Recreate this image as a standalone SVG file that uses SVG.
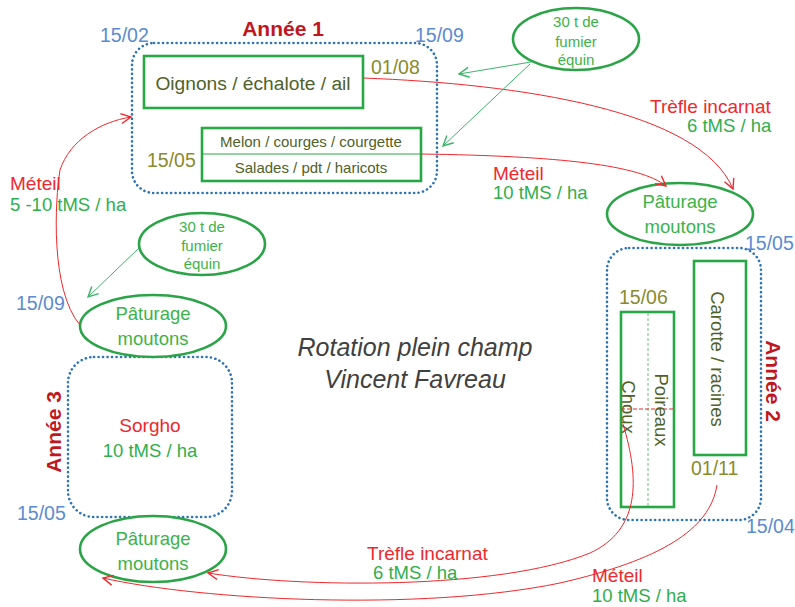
<svg xmlns="http://www.w3.org/2000/svg" width="795" height="607" viewBox="0 0 795 607">
  <style>
    text { font-family: "Liberation Sans", Arial, sans-serif; }
    .year { fill: none; stroke: #2E75B6; stroke-width: 2.6; stroke-dasharray: 0.1 4.4; stroke-linecap: round; }
    .crop { fill: #ffffff; stroke: #27A844; stroke-width: 2.6; }
    .ell { fill: #ffffff; stroke: #2AA446; stroke-width: 2.6; }
    .flow { fill: none; stroke: #F0282D; stroke-width: 1; }
    .feed { fill: none; stroke: #3DB36A; stroke-width: 1; }
    .date { fill: #5B8BD0; font-size: 19.5px; }
    .odate { fill: #8A8A2E; font-size: 19.5px; }
    .ytitle { fill: #C0171F; font-size: 21px; font-weight: bold; }
    .crop-t { fill: #4F6228; }
    .red { fill: #F0282D; font-size: 19px; }
    .grn { fill: #2FAE4E; font-size: 18.5px; }
    .past { fill: #3CB34A; font-size: 18.5px; text-anchor: middle; }
    .fum { fill: #3CB34A; font-size: 15px; text-anchor: middle; }
    .mid { text-anchor: middle; }
  </style>
  <defs>
    <marker id="arrowRed" viewBox="0 0 12 12" refX="11" refY="6" markerWidth="12" markerHeight="12" markerUnits="userSpaceOnUse" orient="auto">
      <path d="M1,1 L11,6 L1,11" fill="none" stroke="#F0282D" stroke-width="1.4"/>
    </marker>
    <marker id="arrowGreen" viewBox="0 0 12 12" refX="11" refY="6" markerWidth="12" markerHeight="12" markerUnits="userSpaceOnUse" orient="auto">
      <path d="M1,1 L11,6 L1,11" fill="none" stroke="#3DB36A" stroke-width="1.4"/>
    </marker>
  </defs>

  <!-- Year 1 -->
  <g id="annee1">
    <rect class="year" x="132" y="43" width="305" height="150" rx="22"/>
    <text class="ytitle mid" x="283" y="36">Année 1</text>
    <text class="date" x="100" y="42">15/02</text>
    <text class="date" x="415" y="42">15/09</text>
  </g>
  <g id="oignons">
    <rect class="crop" x="144" y="56" width="219" height="52"/>
    <text class="crop-t mid" x="253" y="90" font-size="19.2">Oignons / échalote / ail</text>
    <text class="odate" x="371" y="74">01/08</text>
  </g>
  <g id="melon">
    <rect class="crop" x="202" y="128" width="219" height="53"/>
    <line x1="202" y1="154" x2="421" y2="154" stroke="#27A844" stroke-width="1"/>
    <text class="crop-t mid" x="311" y="147" font-size="15">Melon / courges / courgette</text>
    <text class="crop-t mid" x="311" y="173" font-size="15">Salades / pdt / haricots</text>
    <text class="odate" x="147" y="167">15/05</text>
  </g>
  <g id="fumier1">
    <ellipse class="ell" cx="576" cy="39" rx="63" ry="31"/>
    <text class="fum" x="576" y="27">30 t de</text>
    <text class="fum" x="576" y="47">fumier</text>
    <text class="fum" x="576" y="65">équin</text>
  </g>
  <g id="paturage1">
    <ellipse class="ell" cx="680" cy="214" rx="73" ry="31"/>
    <text class="past" x="680" y="208">Pâturage</text>
    <text class="past" x="680" y="233">moutons</text>
  </g>

  <!-- Year 2 -->
  <g id="annee2">
    <rect class="year" x="607" y="248" width="154" height="272" rx="22"/>
    <text class="ytitle mid" transform="translate(766,381) rotate(90)">Année 2</text>
    <text class="date" x="745" y="250">15/05</text>
    <text class="date" x="746" y="533">15/04</text>
  </g>
  <g id="carotte">
    <rect class="crop" x="694" y="261" width="52" height="194"/>
    <text class="crop-t mid" font-size="18.5" transform="translate(711,359) rotate(90)">Carotte / racines</text>
    <text class="odate" x="691" y="475">01/11</text>
  </g>
  <g id="choux-poireaux">
    <rect class="crop" x="621" y="312" width="53" height="195"/>
    <line x1="648" y1="313" x2="648" y2="506" stroke="#6CC07A" stroke-width="1" stroke-dasharray="3 2"/>
    <line x1="621" y1="409" x2="674" y2="409" stroke="#E0282D" stroke-width="1" stroke-dasharray="4 2"/>
    <text class="crop-t mid" font-size="18.5" transform="translate(655,410) rotate(90)">Poireaux</text>
    <text class="crop-t mid" font-size="18.5" transform="translate(622,407) rotate(90)">Choux</text>
    <text class="odate" x="619" y="304">15/06</text>
  </g>

  <!-- Year 3 -->
  <g id="annee3">
    <rect class="year" x="68" y="357" width="164" height="160" rx="26"/>
    <text class="ytitle mid" transform="translate(61,432) rotate(-90)">Année 3</text>
    <text class="red mid" x="150" y="432">Sorgho</text>
    <text class="grn mid" x="150" y="457">10 tMS / ha</text>
    <text class="date" x="17" y="520">15/05</text>
  </g>
  <g id="fumier3">
    <ellipse class="ell" cx="202" cy="244" rx="63" ry="31"/>
    <text class="fum" x="202" y="232">30 t de</text>
    <text class="fum" x="202" y="251">fumier</text>
    <text class="fum" x="202" y="269">équin</text>
  </g>
  <g id="paturage3a">
    <ellipse class="ell" cx="153" cy="326" rx="73" ry="31"/>
    <text class="past" x="153" y="320">Pâturage</text>
    <text class="past" x="153" y="345">moutons</text>
    <text class="date" x="16" y="310">15/09</text>
  </g>
  <g id="paturage3b">
    <ellipse class="ell" cx="153" cy="549" rx="73" ry="33"/>
    <text class="past" x="153" y="545">Pâturage</text>
    <text class="past" x="153" y="570">moutons</text>
  </g>

  <g id="titre">
    <text class="mid" x="415" y="356" font-size="25" font-style="italic" fill="#404040">Rotation plein champ</text>
    <text class="mid" x="415" y="388" font-size="25" font-style="italic" fill="#404040">Vincent Favreau</text>
  </g>

  <!-- Connectors -->
  <g id="connectors">
    <path class="flow" d="M363,78 C520,84 700,110 733,189" marker-end="url(#arrowRed)"/>
    <path class="flow" d="M421,154 C560,156 640,165 666,186" marker-end="url(#arrowRed)"/>
    <path class="flow" d="M80,325 C50,290 55,200 60,170 C70,140 100,122 131,117" marker-end="url(#arrowRed)"/>
    <path class="flow" d="M623,424 C640,480 640,530 590,553 C500,590 300,588 208,573" marker-end="url(#arrowRed)"/>
    <path class="flow" d="M717,485 C710,530 660,560 560,583 C420,612 200,600 103,578" marker-end="url(#arrowRed)"/>
    <line class="feed" x1="531" y1="62" x2="459" y2="74" marker-end="url(#arrowGreen)"/>
    <line class="feed" x1="530" y1="64" x2="443" y2="146" marker-end="url(#arrowGreen)"/>
    <line class="feed" x1="139" y1="248" x2="88" y2="297" marker-end="url(#arrowGreen)"/>
  </g>

  <!-- Connector labels -->
  <g id="labels">
    <text class="red" x="592" y="582" font-size="16.5">Méteil</text>
    <text class="grn" x="592" y="602" font-size="16.5">10 tMS / ha</text>
    <text class="red" x="650" y="113">Trèfle incarnat</text>
    <text class="grn" x="687" y="132">6 tMS / ha</text>
    <text class="red" x="493" y="180">Méteil</text>
    <text class="grn" x="493" y="199">10 tMS / ha</text>
    <text class="red" x="10" y="190">Méteil</text>
    <text class="grn" x="10" y="211">5 -10 tMS / ha</text>
    <text class="red" x="367" y="560">Trèfle incarnat</text>
    <text class="grn" x="373" y="579">6 tMS / ha</text>
  </g>
</svg>
